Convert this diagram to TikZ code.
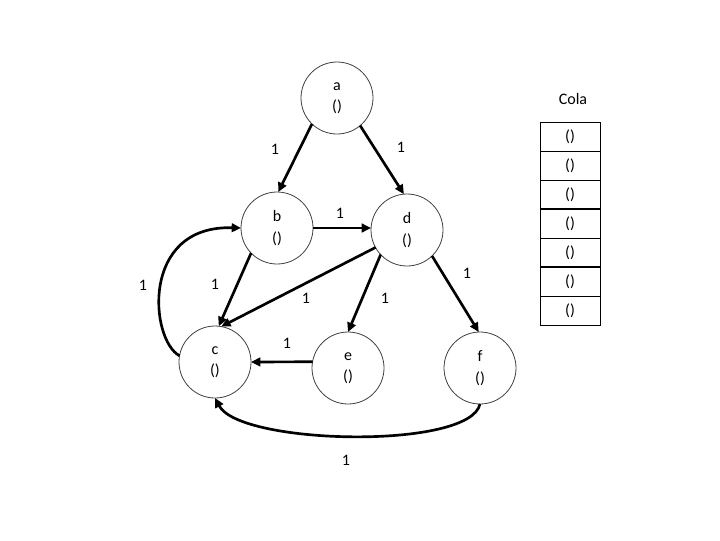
\documentclass[tikz,border=0pt]{standalone}
\usepackage{fontspec}
\setmainfont{Carlito}
\usetikzlibrary{arrows.meta}
\begin{document}
\begin{tikzpicture}[x=0.75pt,y=-0.75pt,
  vtx/.style={circle,draw=black!75,line width=0.6pt,minimum size=54pt,inner sep=0pt,outer sep=0pt,align=center,font=\fontsize{12}{16}\selectfont},
  edge/.style={line width=2pt,-{Triangle[length=7pt,width=6.5pt]}},
  lbl/.style={font=\fontsize{12}{14}\selectfont,inner sep=0pt},
  cell/.style={draw,line width=0.6pt,minimum width=45pt,minimum height=21.75pt,inner sep=0pt,outer sep=0pt,font=\fontsize{12}{14}\selectfont}]
\useasboundingbox (0,0) rectangle (720,540);
% vertices
\node[vtx] (a) at (337,98) {a\\()};
\node[vtx] (b) at (277,228) {b\\()};
\node[vtx] (d) at (407,230) {d\\()};
\node[vtx] (c) at (215,362) {c\\()};
\node[vtx] (e) at (348,368) {e\\()};
\node[vtx] (f) at (480,368) {f\\()};
% edges
\draw[edge] (a.226) -- (b.88);
\draw[edge] (a.-50) -- (d.95);
\draw[edge] (b.east) -- (d.west |- b.east);
\draw[edge] (b.224) -- (c.84);
\draw[edge] (d.209) -- (c.80);
\draw[edge] (d.223) -- (e.90);
\draw[edge] (d.-46) -- (f.92);
\draw[edge] (e.170) -- (c.east);
\draw[edge] (c.170) .. controls (150,340) and (140,225) .. (b.west);
\draw[edge] (f.south) .. controls (470,450) and (240,445) .. (c.south);
% edge labels
\node[lbl] (l1) at (275,149) {1};
\node[lbl] (l2) at (401,147) {1};
\node[lbl] (l3) at (340,213) {1};
\node[lbl] (l4) at (215,284) {1};
\node[lbl] (l5) at (306,298) {1};
\node[lbl] (l6) at (385,298) {1};
\node[lbl] (l7) at (467,273) {1};
\node[lbl] (l8) at (287,343) {1};
\node[lbl] (l9) at (143,285) {1};
\node[lbl] (l10) at (346,460) {1};
% queue
\node[lbl] (cola) at (573,99) {Cola};
\foreach \i in {1,...,7} {
  \node[cell] (q\i) at (570,{122+29*(\i-0.5)}) {()};
}
\draw[line width=1.6pt] (q3.south west) -- (q3.south east);
\draw[line width=1.6pt] (q5.south west) -- (q5.south east);
\end{tikzpicture}
\end{document}
